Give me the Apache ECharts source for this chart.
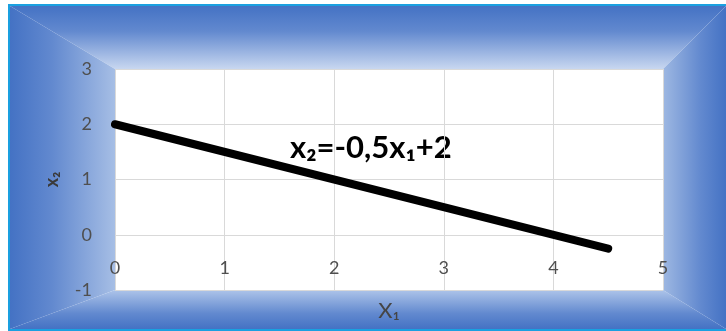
<!DOCTYPE html>
<html>
<head>
<meta charset="utf-8">
<script src="https://cdn.jsdelivr.net/npm/echarts@6/dist/echarts.min.js"></script>
<style>
  html, body { margin: 0; padding: 0; background: #fff; }
  #chart { width: 726px; height: 331px; }
</style>
</head>
<body>
<div id="chart"></div>
<script>
// line x2 = -0.5 * x1 + 2, drawn between its two end points
const lineX1 = [0, 4.5];
const lineX2 = [2, -0.25];

const xTicks = [0, 1, 2, 3, 4, 5];
const yTicks = [-1, 0, 1, 2, 3];

const equationText = "x\u2082=-0,5x\u2081+2";
const xName = "X\u2081";
const yName = "x\u2082";

const FONT = "Lato, 'Open Sans', sans-serif";
const LABEL = "#4f4f4f";

// frame geometry (decoration only)
const OUT = { l: 10, t: 6, r: 726, b: 329 };
const IN = { l: 115, t: 69, r: 663, b: 290 };
const EDGE = "#4472c4";

function band(points, x, y, x2, y2, inner) {
  return {
    type: "polygon",
    silent: true,
    z: -10,
    shape: { points },
    style: {
      fill: {
        type: "linear", x, y, x2, y2,
        colorStops: [
          { offset: 0, color: EDGE },
          { offset: 0.4, color: "#6289cf" },
          { offset: 1, color: inner }
        ]
      }
    }
  };
}

const chart = echarts.init(document.getElementById("chart"));

chart.setOption({
  animation: false,
  textStyle: { fontFamily: FONT },
  graphic: [
    band([[OUT.l, OUT.t], [OUT.r, OUT.t], [IN.r, IN.t], [IN.l, IN.t]], 0, 0, 0, 1, "#c8d7f0"),
    band([[OUT.l, OUT.t], [IN.l, IN.t], [IN.l, IN.b], [OUT.l, OUT.b]], 0, 0, 1, 0, "#a6bee5"),
    band([[OUT.l, OUT.b], [IN.l, IN.b], [IN.r, IN.b], [OUT.r, OUT.b]], 0, 1, 0, 0, "#adc4e9"),
    band([[OUT.r, OUT.t], [OUT.r, OUT.b], [IN.r, IN.b], [IN.r, IN.t]], 1, 0, 0, 0, "#9eb8e2"),
    { type: "rect", silent: true, shape: { x: 8, y: 4, width: 720, height: 2 }, style: { fill: "#1aa0e0" } },
    { type: "rect", silent: true, shape: { x: 8, y: 4, width: 2, height: 330 }, style: { fill: "#1aa0e0" } },
    { type: "rect", silent: true, shape: { x: 8, y: 329, width: 720, height: 2 }, style: { fill: "#1aa0e0" } },
    {
      type: "text",
      left: 290,
      top: 132,
      silent: true,
      style: { text: equationText, font: "bold 31px " + FONT, fill: "#000" }
    }
  ],
  grid: {
    left: IN.l, right: 726 - IN.r, top: IN.t, bottom: 331 - IN.b,
    show: true, backgroundColor: "#ffffff", borderWidth: 0
  },
  xAxis: {
    type: "value",
    min: xTicks[0], max: xTicks[xTicks.length - 1], interval: 1,
    name: xName,
    nameLocation: "middle",
    nameGap: 10,
    nameTextStyle: { color: "#454545", fontSize: 22, fontFamily: FONT },
    axisLine: { show: false, onZero: false },
    axisTick: { show: false },
    axisLabel: { inside: true, margin: 13, color: LABEL, fontSize: 18, fontFamily: FONT },
    splitLine: { show: true, lineStyle: { color: "#d9d9d9", width: 1 } }
  },
  yAxis: {
    type: "value",
    min: yTicks[0], max: yTicks[yTicks.length - 1], interval: 1,
    name: yName,
    nameLocation: "middle",
    nameGap: 54,
    nameTextStyle: { color: "#3a3a3a", fontSize: 18, fontWeight: "bold", fontFamily: FONT },
    axisLine: { show: false },
    axisTick: { show: false },
    axisLabel: { margin: 23, color: LABEL, fontSize: 18, fontFamily: FONT },
    splitLine: { show: true, lineStyle: { color: "#d9d9d9", width: 1 } }
  },
  series: [{
    type: "line",
    data: lineX1.map((x, i) => [x, lineX2[i]]),
    showSymbol: false,
    symbol: "none",
    lineStyle: { color: "#000", width: 8, cap: "round" }
  }]
});
</script>
</body>
</html>
